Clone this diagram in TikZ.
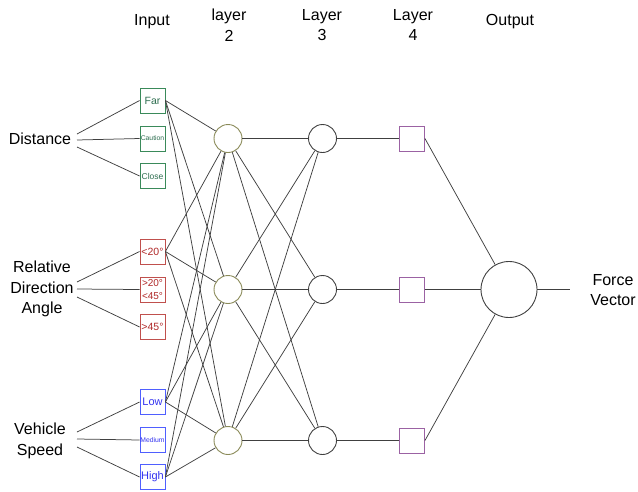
\documentclass[tikz,border=0pt]{standalone}
\usepackage{fontspec}
\setmainfont{Liberation Sans}
\definecolor{gbord}{HTML}{3A8A5A}
\definecolor{gtext}{HTML}{2E6E50}
\definecolor{rbord}{HTML}{C0504D}
\definecolor{rtext}{HTML}{B02828}
\definecolor{bbord}{HTML}{4F5FFF}
\definecolor{btext}{HTML}{3434F0}
\definecolor{olive2}{HTML}{8A8A58}
\definecolor{purp}{HTML}{9B62A3}
\definecolor{linec}{HTML}{404040}
\begin{document}
\begin{tikzpicture}[x=1pt,y=-1pt,
  conn/.style={draw=linec, line width=0.75pt},
  lab/.style={font=\fontsize{16}{20.5}\selectfont, align=center, inner sep=0pt},
  inbox/.style={draw, line width=0.8pt, minimum size=25pt, inner sep=0pt, fill=white, align=center},
  gbox/.style={inbox, draw=gbord, text=gtext},
  rbox/.style={inbox, draw=rbord, text=rtext},
  bbox/.style={inbox, draw=bbord, text=btext},
  ltwo/.style={circle, draw=olive2, line width=0.9pt, minimum size=28pt, inner sep=0pt},
  lthree/.style={circle, draw=linec, line width=0.9pt, minimum size=28pt, inner sep=0pt},
  lfour/.style={draw=purp, line width=0.9pt, minimum size=25pt, inner sep=0pt},
  outc/.style={circle, draw=linec, line width=0.9pt, minimum size=56pt, inner sep=0pt}
]
\useasboundingbox (0,0) rectangle (638,491);

% headers
\node[lab] (hin) at (152,22) {Input};
\node[lab] (hl2) at (229,25) {layer\\2};
\node[lab] (hl3) at (322,25) {Layer\\3};
\node[lab] (hl4) at (413,25) {Layer\\4};
\node[lab] (hout) at (510,22) {Output};

% left labels
\node[lab] (dist) at (40,139) {Distance};
\node[lab] (rda) at (42,289) {Relative\\Direction\\Angle};
\node[lab] (vs) at (40,441) {Vehicle\\Speed};
\coordinate (d1) at (77,134); \coordinate (d2) at (77,140); \coordinate (d3) at (77,147);
\coordinate (r1) at (77,282); \coordinate (r2) at (77,289); \coordinate (r3) at (77,297);
\coordinate (v1) at (77,432); \coordinate (v2) at (77,439); \coordinate (v3) at (77,447);

% input boxes
\node[gbox, font=\fontsize{10.5}{11}\selectfont] (far) at (152.5,100.5) {Far};
\node[gbox, font=\fontsize{6.8}{7}\selectfont] (cau) at (152.5,138.5) {Caution};
\node[gbox, font=\fontsize{8.5}{9}\selectfont] (clo) at (152.5,176) {Close};
\node[rbox, font=\fontsize{10.5}{11}\selectfont] (a1) at (152.5,251.5) {<20°};
\node[rbox, font=\fontsize{10}{12.5}\selectfont] (a2) at (152.5,289.5) {>20°\\<45°};
\node[rbox, font=\fontsize{10.5}{11}\selectfont] (a3) at (152.5,327) {>45°};
\node[bbox, font=\fontsize{11}{12}\selectfont] (low) at (152.5,402) {Low};
\node[bbox, font=\fontsize{6.8}{7}\selectfont] (med) at (152.5,440) {Medium};
\node[bbox, font=\fontsize{11}{12}\selectfont] (high) at (152.5,477) {High};

% layer 2,3,4
\node[ltwo] (p1) at (228,138.5) {};
\node[ltwo] (p2) at (228,289.5) {};
\node[ltwo] (p3) at (228,440.5) {};
\node[lthree] (q1) at (322.5,138.5) {};
\node[lthree] (q2) at (322.5,289.5) {};
\node[lthree] (q3) at (322.5,440.5) {};
\node[lfour] (s1) at (412,138.5) {};
\node[lfour] (s2) at (412,289.5) {};
\node[lfour] (s3) at (412,440.5) {};
\node[outc] (out) at (509,289.5) {};
\coordinate (fv) at (570,289.5);
\node[lab] (force) at (613,290) {Force\\Vector};

% label lines
\draw[conn] (d1) -- (far.west);
\draw[conn] (d2) -- (cau.west);
\draw[conn] (d3) -- (clo.west);
\draw[conn] (r1) -- (a1.west);
\draw[conn] (r2) -- (a2.west);
\draw[conn] (r3) -- (a3.west);
\draw[conn] (v1) -- (low.west);
\draw[conn] (v2) -- (med.west);
\draw[conn] (v3) -- (high.west);

% input -> layer 2
\foreach \s in {far,a1,low,high}{
  \foreach \t in {p1,p2,p3}{
    \draw[conn] (\s.east) -- (\t);
  }
}
% layer 2 -> layer 3
\foreach \s in {p1,p2,p3}{
  \foreach \t in {q1,q2,q3}{
    \draw[conn] (\s) -- (\t);
  }
}
% layer 3 -> layer 4
\draw[conn] (q1) -- (s1);
\draw[conn] (q2) -- (s2);
\draw[conn] (q3) -- (s3);
% layer 4 -> output
\draw[conn] (s1.east) -- (out);
\draw[conn] (s2.east) -- (out);
\draw[conn] (s3.east) -- (out);
\draw[conn] (out.east) -- (fv);
\end{tikzpicture}
\end{document}
